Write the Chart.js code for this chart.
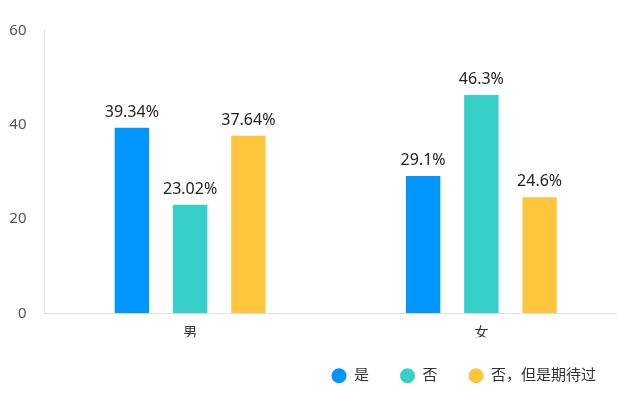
<!DOCTYPE html>
<html>
<head>
<meta charset="utf-8">
<script src="https://cdn.jsdelivr.net/npm/chart.js@4"></script>
<style>
  html, body { margin: 0; padding: 0; background: #ffffff; overflow: hidden; width: 617px; height: 394px; }
  #wrap { position: absolute; left: 0; top: 0; width: 627px; height: 394px; }
</style>
</head>
<body>
<div id="wrap"><canvas id="c"></canvas></div>
<script>
const categories = ['男', '女'];
const seriesNames = ['是', '否', '否，但是期待过'];
const seriesYes = [39.34, 29.1];
const seriesNo = [23.02, 46.3];
const seriesNoButExpect = [37.64, 24.6];
const yTicks = [0, 20, 40, 60];

const colors = ['#0096FF', '#36CFC9', '#FFC53D'];
const FONT = '"Noto Sans", "Noto Sans CJK SC", sans-serif';

const valueLabels = {
  id: 'valueLabels',
  afterDatasetsDraw(chart) {
    const ctx = chart.ctx;
    ctx.save();
    ctx.font = '16px ' + FONT;
    ctx.fillStyle = '#222222';
    ctx.textAlign = 'center';
    ctx.textBaseline = 'alphabetic';
    chart.data.datasets.forEach((ds, di) => {
      const meta = chart.getDatasetMeta(di);
      meta.data.forEach((el, i) => {
        ctx.fillText(ds.data[i] + '%', el.x, el.y - 11);
      });
    });
    ctx.restore();
  }
};

new Chart(document.getElementById('c'), {
  type: 'bar',
  data: {
    labels: categories,
    datasets: [
      { label: seriesNames[0], data: seriesYes, backgroundColor: colors[0], borderWidth: 0 },
      { label: seriesNames[1], data: seriesNo, backgroundColor: colors[1], borderWidth: 0 },
      { label: seriesNames[2], data: seriesNoButExpect, backgroundColor: colors[2], borderWidth: 0 }
    ]
  },
  options: {
    responsive: true,
    maintainAspectRatio: false,
    animation: false,
    devicePixelRatio: 1,
    categoryPercentage: 0.6,
    barPercentage: 0.59,
    layout: { padding: { top: 30.3, left: 0, right: 0, bottom: 0.8 } },
    plugins: {
      tooltip: { enabled: false },
      legend: {
        position: 'bottom',
        align: 'end',
        labels: {
          usePointStyle: true,
          pointStyle: 'circle',
          boxWidth: 15,
          boxHeight: 10.6,
          padding: 31,
          color: '#333333',
          font: { size: 15, family: FONT }
        }
      }
    },
    scales: {
      x: {
        grid: { display: false, drawTicks: false },
        border: { display: true, color: '#DCDFEC', width: 1 },
        ticks: { color: '#333333', padding: 11.3, font: { size: 14, family: FONT } },
        afterFit(scale) { scale.height = 23.9; scale.paddingLeft = 0; scale.paddingRight = 0; }
      },
      y: {
        min: 0,
        max: 60,
        afterBuildTicks(scale) { scale.ticks = yTicks.map(v => ({ value: v })); },
        grid: { display: false, drawTicks: false },
        border: { display: true, color: '#DCDFEC', width: 1 },
        ticks: { color: '#555555', padding: 18, font: { size: 15, family: FONT } },
        afterFit(scale) { scale.width = 44.5; scale.paddingTop = 0; scale.paddingBottom = 0; }
      }
    }
  },
  plugins: [valueLabels]
});
</script>
</body>
</html>
